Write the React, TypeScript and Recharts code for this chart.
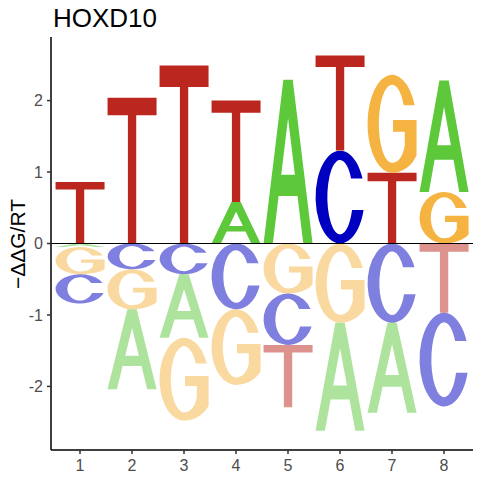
import { Bar, BarChart, ReferenceLine, XAxis, YAxis } from "recharts";

const positions = ["1", "2", "3", "4", "5", "6", "7", "8"];

// above zero, bottom layer first
const upLetters1 = ["T", "T", "T", "A", "A", "C", "T", "G"];
const upValues1 = [0.86, 2.04, 2.49, 0.58, 2.29, 1.3, 0.99, 0.72];
const upLetters2 = ["", "", "", "T", "", "T", "G", "A"];
const upValues2 = [0, 0, 0, 1.42, 0, 1.33, 1.37, 1.56];

// below zero, layer next to zero first
const downLetters1 = ["A", "C", "C", "C", "G", "G", "C", "T"];
const downValues1 = [-0.05, -0.36, -0.43, -0.92, -0.7, -1.11, -1.11, -0.97];
const downLetters2 = ["G", "G", "A", "G", "C", "A", "A", "C"];
const downValues2 = [-0.38, -0.56, -0.89, -1.06, -0.72, -1.51, -1.26, -1.31];
const downLetters3 = ["C", "A", "G", "", "T", "", "", ""];
const downValues3 = [-0.41, -1.12, -1.16, 0, -0.87, 0, 0, 0];

const yTicks = [-2, -1, 0, 1, 2];

const letterColors: Record<string, string> = {
  A: "#5CC83A",
  C: "#0000C0",
  G: "#F5B441",
  T: "#BB261E",
};

// glyph outlines in a 100x100 box
const glyphs: Record<string, string> = {
  T: "M0,0 H100 V12 H58.5 V100 H41.5 V12 H0 Z",
  A: "M0,100 L40.5,0 L59.5,0 L100,100 L81,100 L69.3,71 L30.7,71 L19,100 Z M36,58 L64,58 L50,23.5 Z",
  C: "M95.8,30 A50,50 0 1 0 98,64 L74.4,64 A26,40 0 1 1 72.5,30 Z",
  G: "M96.2,31 A50,50 0 1 0 50,100 C72,100 92,92 100,82 L100,46 L52,46 L52,58 L76,58 L76,72 C72,84 62,90 50,90 A27,40 0 1 1 73.8,31 Z",
};

const data = positions.map((pos, i) => ({
  pos,
  up1: upValues1[i],
  up2: upValues2[i],
  down1: downValues1[i],
  down2: downValues2[i],
  down3: downValues3[i],
}));

const font = "'Liberation Sans', Arial, sans-serif";

function letterShape(letters: string[], below: boolean) {
  return (props: any) => {
    const i = positions.indexOf(props.payload?.pos);
    const letter = letters[i];
    let { x, y, width, height } = props;
    if (!letter || !height) return <g />;
    if (height < 0) {
      y += height;
      height = -height;
    }
    return (
      <path
        d={glyphs[letter]}
        transform={`translate(${x},${y}) scale(${width / 100},${height / 100})`}
        fill={letterColors[letter]}
        fillOpacity={below ? 0.5 : 1}
        fillRule="evenodd"
      />
    );
  };
}

export default function App() {
  return (
    <div style={{ position: "absolute", left: 0, top: 0, width: 480, height: 480, background: "#fff" }}>
      <BarChart
        width={480}
        height={480}
        data={data}
        stackOffset="sign"
        barCategoryGap="3%"
        margin={{ top: 37, right: 7, bottom: 0, left: 0 }}
      >
        <XAxis
          dataKey="pos"
          padding={{ left: 3, right: 3 }}
          tickSize={4}
          tickMargin={6}
          axisLine={{ stroke: "#000", strokeWidth: 1.5 }}
          tickLine={{ stroke: "#333", strokeWidth: 1.5 }}
          tick={{ fill: "#4D4D4D", fontSize: 16, fontFamily: font }}
          height={30}
        />
        <YAxis
          type="number"
          domain={[-2.89, 2.89]}
          ticks={yTicks}
          width={51}
          tickSize={4}
          tickMargin={4}
          axisLine={{ stroke: "#000", strokeWidth: 1.5 }}
          tickLine={{ stroke: "#333", strokeWidth: 1.5 }}
          tick={{ fill: "#4D4D4D", fontSize: 16, fontFamily: font }}
        />
        <Bar dataKey="up1" stackId="logo" isAnimationActive={false} shape={letterShape(upLetters1, false)} />
        <Bar dataKey="up2" stackId="logo" isAnimationActive={false} shape={letterShape(upLetters2, false)} />
        <Bar dataKey="down1" stackId="logo" isAnimationActive={false} shape={letterShape(downLetters1, true)} />
        <Bar dataKey="down2" stackId="logo" isAnimationActive={false} shape={letterShape(downLetters2, true)} />
        <Bar dataKey="down3" stackId="logo" isAnimationActive={false} shape={letterShape(downLetters3, true)} />
        <ReferenceLine y={0} stroke="#000" strokeWidth={1} />
      </BarChart>
      <svg
        width={480}
        height={480}
        style={{ position: "absolute", left: 0, top: 0, pointerEvents: "none" }}
      >
        <text x={53} y={26.5} fontSize={26} fontFamily={font} fill="#000">
          HOXD10
        </text>
        <text
          transform="translate(25,244) rotate(-90)"
          textAnchor="middle"
          fontSize={21}
          fontFamily={font}
          fill="#000"
        >
          −ΔΔG/RT
        </text>
      </svg>
    </div>
  );
}
